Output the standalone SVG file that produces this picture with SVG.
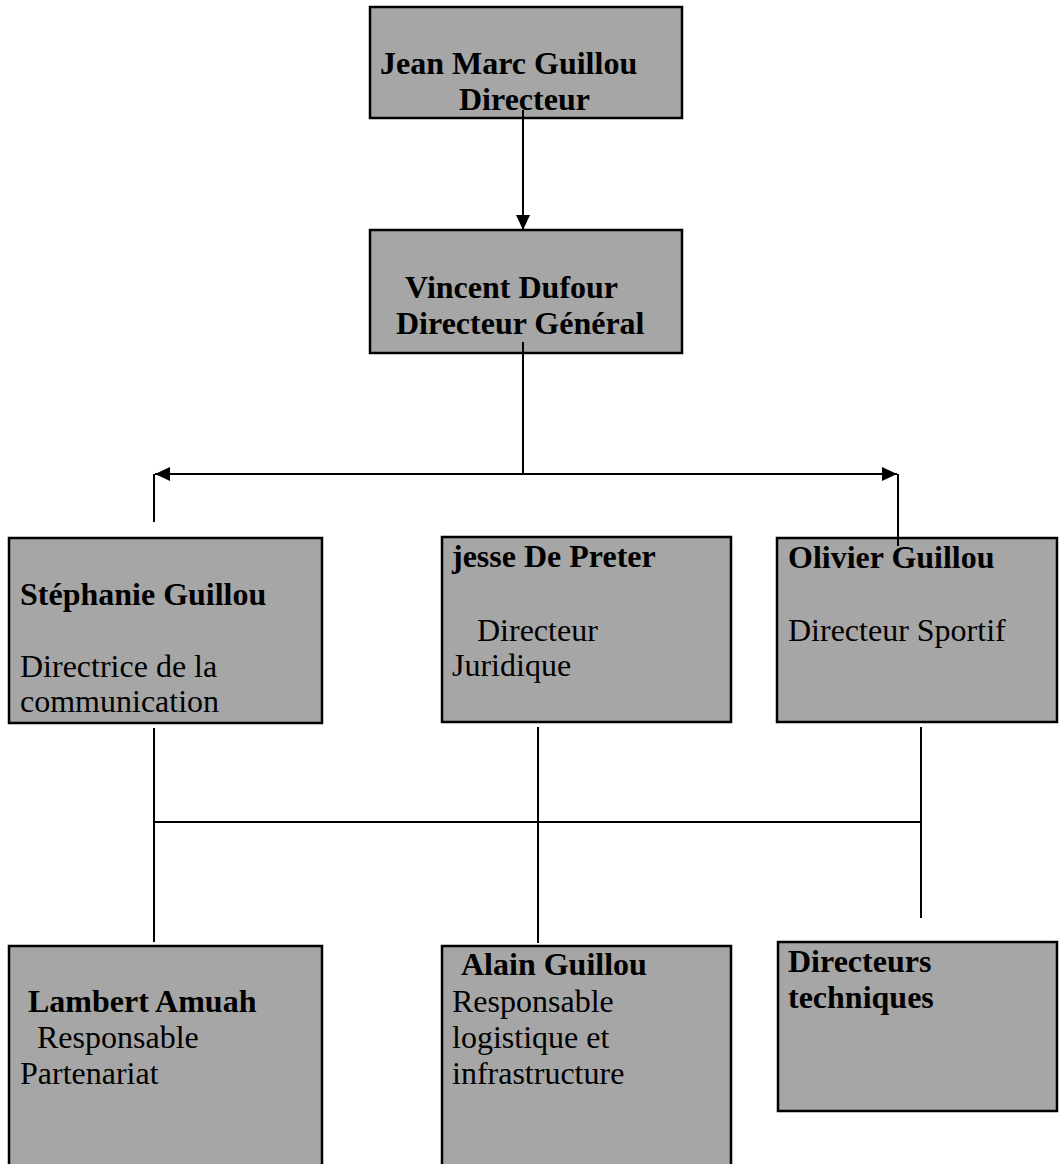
<svg xmlns="http://www.w3.org/2000/svg" width="1059" height="1164" viewBox="0 0 1059 1164">
<style>
.box{fill:#a6a6a6;stroke:#000;stroke-width:2.5}
.b{font-family:"Liberation Serif","Times New Roman",serif;font-size:32px;font-weight:bold;fill:#000}
.r{font-family:"Liberation Serif","Times New Roman",serif;font-size:32px;fill:#000}
.ln{stroke:#000;stroke-width:2;fill:none}
</style>
<defs>
<marker id="ah" markerUnits="userSpaceOnUse" markerWidth="16" markerHeight="14" refX="15" refY="7" orient="auto">
<path d="M0,0 L15,7 L0,14 Z" fill="#000"/>
</marker>
</defs>
<rect width="1059" height="1164" fill="#fff"/>
<g id="n1"><rect class="box" x="370" y="7" width="312" height="111"/>
<text class="b" x="380" y="74">Jean Marc Guillou</text>
<text class="b" x="459" y="110">Directeur</text></g>
<g id="n2"><rect class="box" x="370" y="230" width="312" height="123"/>
<text class="b" x="405" y="298">Vincent Dufour</text>
<text class="b" x="396" y="334">Directeur Général</text></g>
<g id="n3"><rect class="box" x="9" y="538" width="313" height="185"/>
<text class="b" x="20" y="605">Stéphanie Guillou</text>
<text class="r" x="20" y="677">Directrice de la</text>
<text class="r" x="20" y="712">communication</text></g>
<g id="n4"><rect class="box" x="442" y="537" width="289" height="185"/>
<text class="b" x="452" y="567">jesse De Preter</text>
<text class="r" x="477" y="641">Directeur</text>
<text class="r" x="452" y="676">Juridique</text></g>
<g id="n5"><rect class="box" x="777" y="538" width="280" height="184"/>
<text class="b" x="788" y="568">Olivier Guillou</text>
<text class="r" x="788" y="641">Directeur Sportif</text></g>
<g id="n6"><rect class="box" x="9" y="946" width="313" height="230"/>
<text class="b" x="28" y="1012">Lambert Amuah</text>
<text class="r" x="37" y="1048">Responsable</text>
<text class="r" x="20" y="1084">Partenariat</text></g>
<g id="n7"><rect class="box" x="442" y="946" width="289" height="230"/>
<text class="b" x="461" y="975">Alain Guillou</text>
<text class="r" x="452" y="1012">Responsable</text>
<text class="r" x="452" y="1048">logistique et</text>
<text class="r" x="452" y="1084">infrastructure</text></g>
<g id="n8"><rect class="box" x="778" y="942" width="279" height="169"/>
<text class="b" x="788" y="972">Directeurs</text>
<text class="b" x="788" y="1008">techniques</text></g>
<g id="connectors">
<line class="ln" x1="523" y1="110" x2="523" y2="230" marker-end="url(#ah)" stroke-width="2.5"/>
<line class="ln" x1="523" y1="342" x2="523" y2="474"/>
<line class="ln" x1="523" y1="474" x2="155" y2="474" marker-end="url(#ah)"/>
<line class="ln" x1="523" y1="474" x2="897" y2="474" marker-end="url(#ah)"/>
<polyline class="ln" points="154,474 154,522"/>
<polyline class="ln" points="898,474 898,546"/>
<line class="ln" x1="154" y1="728" x2="154" y2="942"/>
<line class="ln" x1="538" y1="727" x2="538" y2="943"/>
<line class="ln" x1="921" y1="727" x2="921" y2="918"/>
<line class="ln" x1="154" y1="822" x2="921" y2="822"/>
</g>
</svg>
